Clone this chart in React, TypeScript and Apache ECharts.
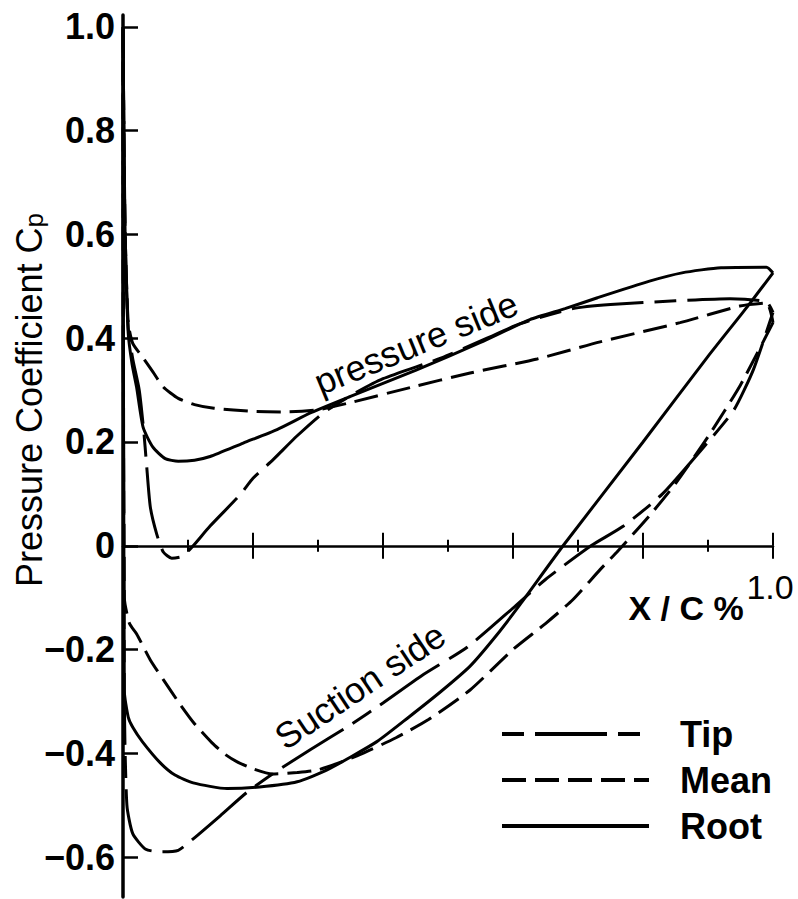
import React, { useEffect, useRef } from 'react';
import * as echarts from 'echarts';

const FONT = '"Liberation Sans", Arial, Helvetica, sans-serif';

// Axis ticks / labels
const yTickValues = [-0.6, -0.4, -0.2, 0, 0.2, 0.4, 0.6, 0.8, 1.0];
const xEndLabel = '1.0';
const seriesNames = ['Tip', 'Mean', 'Root'];

// Pressure-side and suction-side distributions, [x/c, Cp], leading edge -> trailing edge
const rootPressure = [
  [0, 1.0], [0.003, 0.62], [0.008, 0.41], [0.014, 0.35], [0.021, 0.305], [0.031, 0.228],
  [0.046, 0.19], [0.065, 0.168], [0.085, 0.163], [0.11, 0.165], [0.134, 0.172], [0.185, 0.198],
  [0.237, 0.224], [0.29, 0.257], [0.35, 0.288], [0.45, 0.338], [0.55, 0.392], [0.626, 0.436],
  [0.68, 0.457], [0.73, 0.478], [0.81, 0.51], [0.86, 0.526], [0.92, 0.536], [0.99, 0.537],
];
const rootSuction = [
  [0, 1.0], [0.002, -0.28], [0.008, -0.33], [0.015, -0.35], [0.03, -0.378], [0.057, -0.418],
  [0.08, -0.442], [0.108, -0.457], [0.16, -0.468], [0.21, -0.465], [0.268, -0.455], [0.314, -0.432],
  [0.39, -0.378], [0.44, -0.33], [0.49, -0.28], [0.534, -0.232], [0.575, -0.172], [0.611, -0.113],
  [0.677, 0.0], [0.8, 0.2], [0.9, 0.365], [0.96, 0.46], [1.0, 0.526],
];
const tipPressure = [
  [0, 1.0], [0.003, 0.62], [0.008, 0.42], [0.015, 0.36], [0.025, 0.3], [0.032, 0.22], [0.036, 0.16],
  [0.042, 0.075], [0.052, 0.022], [0.062, -0.012], [0.075, -0.024], [0.092, -0.02], [0.108, 0.0],
  [0.134, 0.038], [0.18, 0.098], [0.2, 0.13], [0.231, 0.166], [0.268, 0.212], [0.308, 0.256],
  [0.354, 0.292], [0.4, 0.322], [0.49, 0.362], [0.56, 0.4], [0.611, 0.428], [0.692, 0.457],
  [0.75, 0.465], [0.85, 0.472], [0.934, 0.476], [0.99, 0.47],
];
const tipSuction = [
  [0, 1.0], [0.002, -0.3], [0.006, -0.5], [0.015, -0.555], [0.035, -0.585], [0.06, -0.59],
  [0.085, -0.587], [0.106, -0.567], [0.15, -0.52], [0.19, -0.476], [0.23, -0.44], [0.288, -0.393],
  [0.35, -0.345], [0.4, -0.303], [0.46, -0.25], [0.53, -0.195], [0.6, -0.12], [0.65, -0.065],
  [0.72, 0.0], [0.77, 0.038], [0.83, 0.1], [0.9, 0.2], [0.94, 0.262], [0.97, 0.34], [1.0, 0.45],
];
const meanPressure = [
  [0, 1.0], [0.003, 0.62], [0.008, 0.43], [0.015, 0.39], [0.031, 0.362], [0.046, 0.335],
  [0.062, 0.306], [0.085, 0.284], [0.11, 0.272], [0.14, 0.265], [0.2, 0.259], [0.25, 0.258],
  [0.3, 0.262], [0.35, 0.276], [0.442, 0.305], [0.534, 0.333], [0.637, 0.36], [0.734, 0.393],
  [0.857, 0.43], [0.949, 0.462], [0.99, 0.468],
];
const meanSuction = [
  [0, 1.0], [0.002, -0.1], [0.01, -0.15], [0.021, -0.17], [0.042, -0.22], [0.062, -0.258],
  [0.088, -0.306], [0.11, -0.343], [0.137, -0.38], [0.157, -0.402], [0.175, -0.416], [0.2, -0.43],
  [0.23, -0.44], [0.268, -0.437], [0.3, -0.432], [0.36, -0.405], [0.42, -0.37], [0.47, -0.335],
  [0.534, -0.278], [0.6, -0.2], [0.65, -0.15], [0.692, -0.104], [0.734, -0.046], [0.76, -0.012],
  [0.81, 0.058], [0.85, 0.12], [0.9, 0.21], [0.95, 0.31], [1.0, 0.43],
];

// closed loop: suction side TE -> LE, then pressure side LE -> TE, back to start
function loop(suction: number[][], pressure: number[][]) {
  const s = suction.slice().reverse();
  const out = s.concat(pressure);
  out.push(s[0]);
  return out;
}

const Y_MIN = -0.677;
const Y_MAX = 1.023;

export default function App() {
  const ref = useRef<HTMLDivElement>(null);

  useEffect(() => {
    if (!ref.current) return;
    const chart = echarts.init(ref.current, null, { renderer: 'svg' });
    const black = '#000';
    const tickStyle = { color: black, width: 2 };

    const fmtY = (v: number) => {
      if (Math.abs(v) < 1e-9) return '0';
      return v < 0 ? '\u2212' + (-v).toFixed(1) : v.toFixed(1);
    };

    chart.setOption({
      animation: false,
      backgroundColor: '#fff',
      grid: { left: 123, right: 25, top: 15, bottom: 2, outerBoundsMode: 'none', containLabel: false },
      xAxis: [
        {
          type: 'value', min: 0, max: 1, interval: 0.2, position: 'bottom',
          axisLine: { show: true, onZero: true, lineStyle: { color: black, width: 2.5 } },
          axisTick: { show: true, length: 13, lineStyle: tickStyle },
          minorTick: { show: true, splitNumber: 2, length: 6, lineStyle: tickStyle },
          axisLabel: { show: false },
          splitLine: { show: false },
          minorSplitLine: { show: false },
        },
        {
          type: 'value', min: 0, max: 1, interval: 0.2, position: 'top',
          axisLine: { show: false, onZero: true, onZeroAxisIndex: 0 },
          axisTick: { show: true, length: 13, lineStyle: tickStyle },
          minorTick: { show: true, splitNumber: 2, length: 6, lineStyle: tickStyle },
          axisLabel: { show: false },
          splitLine: { show: false },
        },
      ],
      yAxis: {
        type: 'value', min: Y_MIN, max: Y_MAX,
        axisLine: { show: true, onZero: false, lineStyle: { color: black, width: 3.5 } },
        axisTick: { show: true, inside: true, length: 15, customValues: yTickValues, lineStyle: { color: black, width: 2.5 } },
        axisLabel: {
          customValues: yTickValues, formatter: fmtY,
          fontSize: 36, fontWeight: 'bold', color: black, fontFamily: FONT, margin: 8,
        },
        splitLine: { show: false },
      },
      legend: {
        data: seriesNames,
        orient: 'vertical',
        left: 495, top: 711,
        itemWidth: 147, itemHeight: 20, itemGap: 10,
        selectedMode: false,
        lineStyle: { width: 4 },
        itemStyle: { opacity: 0 },
        textStyle: {
          fontSize: 36, fontWeight: 'bold', color: black, fontFamily: FONT,
          lineHeight: 36, padding: [0, 0, 0, 26],
        },
      },
      graphic: [
        {
          type: 'text', x: 29, y: 400, rotation: Math.PI / 2,
          style: {
            text: 'Pressure Coefficient C{p|p}',
            fontSize: 36, fontFamily: FONT, fill: black,
            textAlign: 'center', textVerticalAlign: 'middle',
            rich: { p: { fontSize: 26, fontFamily: FONT, fill: black, verticalAlign: 'bottom' } },
          },
        },
        {
          type: 'text', x: 770, y: 587,
          style: { text: xEndLabel, fontSize: 34, fontFamily: FONT, fill: black, textAlign: 'center', textVerticalAlign: 'middle' },
        },
        {
          type: 'text', x: 686, y: 608,
          style: { text: 'X / C %', fontSize: 34, fontWeight: 'bold', fontFamily: FONT, fill: black, textAlign: 'center', textVerticalAlign: 'middle' },
        },
        {
          type: 'text', x: 416, y: 343, rotation: 0.39,
          style: { text: 'pressure side', fontSize: 36, fontFamily: FONT, fill: black, textAlign: 'center', textVerticalAlign: 'middle' },
        },
        {
          type: 'text', x: 360, y: 686, rotation: 0.59,
          style: { text: 'Suction side', fontSize: 36, fontFamily: FONT, fill: black, textAlign: 'center', textVerticalAlign: 'middle' },
        },
      ],
      series: [
        {
          name: 'Tip', type: 'line', xAxisIndex: 0, data: loop(tipSuction, tipPressure),
          symbol: 'none', smooth: 0.2,
          lineStyle: { color: black, width: 3, type: [72, 11, 22, 11], dashOffset: 83 },
        },
        {
          name: 'Mean', type: 'line', xAxisIndex: 0, data: loop(meanSuction, meanPressure),
          symbol: 'none', smooth: 0.2,
          lineStyle: { color: black, width: 3, type: [24, 9] },
        },
        {
          name: 'Root', type: 'line', xAxisIndex: 0, data: loop(rootSuction, rootPressure),
          symbol: 'none', smooth: 0.2,
          lineStyle: { color: black, width: 3, type: 'solid' },
        },
      ],
    });

    return () => chart.dispose();
  }, []);

  return (
    <div
      ref={ref}
      style={{ position: 'absolute', left: 0, top: 0, width: 798, height: 899, background: '#fff' }}
    />
  );
}
